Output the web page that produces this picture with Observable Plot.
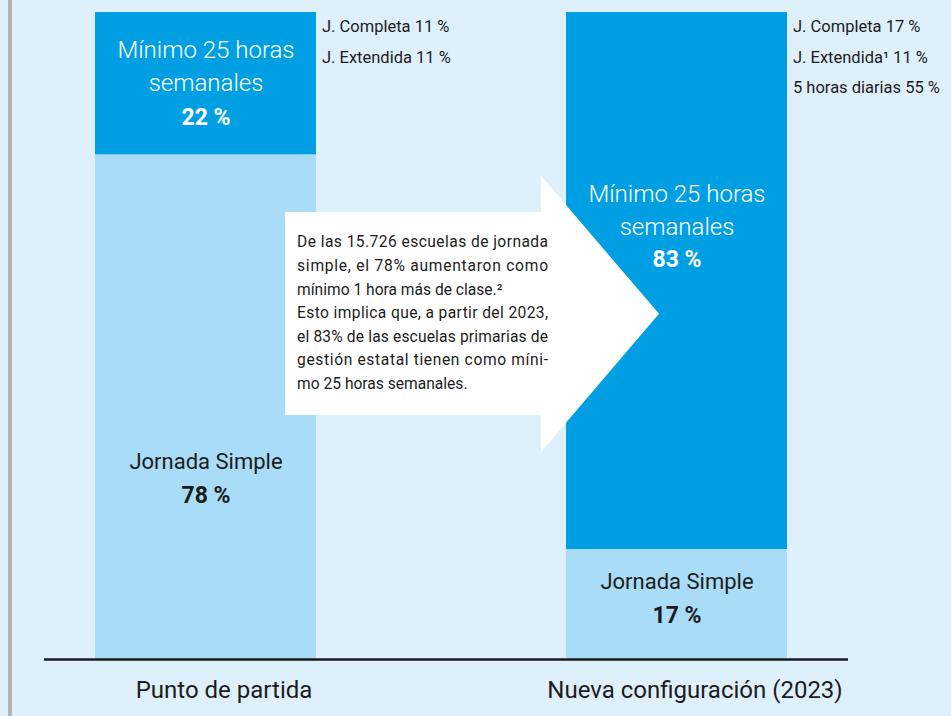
<!DOCTYPE html>
<html><head><meta charset="utf-8">
<script src="https://cdn.jsdelivr.net/npm/d3@7"></script>
<script src="https://cdn.jsdelivr.net/npm/@observablehq/plot@0.6"></script>
<style>
body{margin:0;background:#dff0fd;}
#chart svg{display:block;}
</style>
</head><body><div id="chart"></div>
<script>
const categories = ["Punto de partida", "Nueva configuración (2023)"];
const segmentNames = ["Jornada Simple", "Mínimo 25 horas semanales"];
const jornadaSimple = [78, 17];
const minimo25 = [22, 83];
const detailPunto = ["J. Completa 11 %", "J. Extendida 11 %"];
const detailNueva = ["J. Completa 17 %", "J. Extendida¹ 11 %", "5 horas diarias 55 %"];
const arrowLines = [
  "De las 15.726 escuelas de jornada",
  "simple, el 78% aumentaron como",
  "mínimo 1 hora más de clase.²",
  "Esto implica que, a partir del 2023,",
  "el 83% de las escuelas primarias de",
  "gestión estatal tienen como míni-",
  "mo 25 horas semanales."
];
const justifiedLines = [true, true, false, true, true, true, false];

// table built from arrays
const rows = categories.flatMap((c, i) => [
  {cat: c, seg: segmentNames[0], value: jornadaSimple[i], idx: i},
  {cat: c, seg: segmentNames[1], value: minimo25[i], idx: i}
]);
rows.forEach(r => {
  const base = r.seg === segmentNames[0] ? 0 : jornadaSimple[r.idx];
  r.mid = base + r.value / 2;
});

const DARK = "#009fe3", LIGHT = "#a8dcf7", INK = "#1c1c1c";
const FONT = "Roboto, 'Noto Sans', sans-serif";
// label pixel offsets (style)
const nameDy = {"0-J": 52.5, "0-M": -19.5, "1-J": -25, "1-M": -73.5};
const pctDy  = {"0-J": 88.5, "0-M": 34, "1-J": 11, "1-M": -21.5};
const key = r => r.idx + "-" + (r.seg === segmentNames[0] ? "J" : "M");

const W = 951, H = 716;
const plot = Plot.plot({
  width: W, height: H,
  marginLeft: 44, marginRight: 103, marginTop: 12, marginBottom: 57,
  style: {
    background: "linear-gradient(to right, #dff0fd 8px, #b4b4b4 8px, #b4b4b4 12px, #dff0fd 12px)",
    fontFamily: FONT, overflow: "visible"
  },
  x: {domain: categories, paddingInner: 0.5318, paddingOuter: 0.1176, align: 0.45, axis: null},
  y: {domain: [0, 100], axis: null},
  color: {domain: segmentNames, range: [LIGHT, DARK]},
  marks: [
    Plot.barY(rows, {x: "cat", y: "value", fill: "seg", order: segmentNames}),
    Plot.ruleY([0], {stroke: INK, strokeWidth: 2.5}),
    ...rows.map(r => Plot.text([r], {
      x: "cat", y: "mid",
      text: d => d.seg === segmentNames[1] ? "Mínimo 25 horas\nsemanales" : d.seg,
      dy: nameDy[key(r)],
      lineHeight: 1.375, lineAnchor: "middle",
      fontSize: r.seg === segmentNames[1] ? 24 : 22,
      fontWeight: r.seg === segmentNames[1] ? 300 : 400,
      fill: r.seg === segmentNames[1] ? "white" : INK
    })),
    ...rows.map(r => Plot.text([r], {
      x: "cat", y: "mid",
      text: d => d.value + " %",
      dy: pctDy[key(r)],
      fontSize: 23, fontWeight: 700,
      fill: r.seg === segmentNames[1] ? "white" : INK
    })),
    Plot.text([detailPunto.join("\n")], {
      x: () => categories[0], frameAnchor: "top", text: d => d,
      textAnchor: "start", dx: 116, dy: -2, lineAnchor: "top", lineHeight: 1.85,
      fontSize: 16.5, fill: INK
    }),
    Plot.text([detailNueva.join("\n")], {
      x: () => categories[1], frameAnchor: "top", text: d => d,
      textAnchor: "start", dx: 116, dy: -2, lineAnchor: "top", lineHeight: 1.85,
      fontSize: 16.5, fill: INK
    }),
    Plot.text(categories, {
      x: d => d, frameAnchor: "bottom", text: d => d,
      dy: 31, dx: 18, lineAnchor: "middle", fontSize: 24, fill: INK
    })
  ]
});

// arrow call-out drawn from the plot's scales
const xs = plot.scale("x"), ys = plot.scale("y");
const bw = xs.bandwidth;
const xa = xs.apply(categories[0]), xb = xs.apply(categories[1]);
const rectL = xa + 0.86 * bw, rectR = xb - 25, tip = xb + 93;
const yRectTop = ys.apply(69.1), yRectBot = ys.apply(37.7);
const yHeadTop = ys.apply(74.7), yHeadBot = ys.apply(32), yTip = ys.apply(53.35);
const svg = d3.select(plot);
const g = svg.append("g").attr("text-anchor", "start");
g.append("path")
  .attr("d", `M${rectL},${yRectTop}H${rectR}V${yHeadTop}L${tip},${yTip}L${rectR},${yHeadBot}V${yRectBot}H${rectL}Z`)
  .attr("fill", "white");
const textW = 251;
g.selectAll("text.arrow").data(arrowLines).join("text")
  .attr("class", "arrow")
  .attr("x", rectL + 12)
  .attr("y", (d, i) => yRectTop + 35.5 + i * 23.6)
  .attr("text-anchor", "start")
  .attr("font-size", 15.6)
  .attr("font-family", FONT)
  .attr("fill", INK)
  .text(d => d)
  .each(function(d, i) {
    if (justifiedLines[i]) {
      d3.select(this).attr("textLength", textW).attr("lengthAdjust", "spacing");
    }
  });

document.getElementById("chart").append(plot);
</script>
</body></html>
